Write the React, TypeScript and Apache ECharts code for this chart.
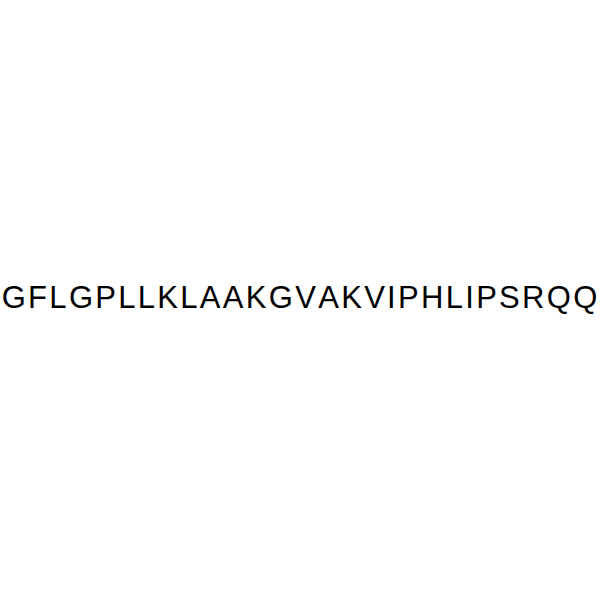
import React, { useEffect, useRef } from "react";
import * as echarts from "echarts";

const residues: string[] = ["G","F","L","G","P","L","L","K","L","A","A","K","G","V","A","K","V","I","P","H","L","I","P","S","R","Q","Q"];

const FONT_FAMILY = "Liberation Sans";
const FONT_SIZE = 31;
const LETTER_SPACING = 2.3;
const CENTER_X = 299.5;
const CENTER_Y = 297;

function measure(ch: string): number {
  const c = document.createElement("canvas");
  const ctx = c.getContext("2d");
  if (!ctx) return FONT_SIZE * 0.64;
  ctx.font = `${FONT_SIZE}px "${FONT_FAMILY}"`;
  return ctx.measureText(ch).width;
}

export default function App() {
  const ref = useRef<HTMLDivElement>(null);
  useEffect(() => {
    if (!ref.current) return;
    const chart = echarts.init(ref.current, null, { renderer: "svg" });
    const widths = residues.map(measure);
    const total = widths.reduce((a, b) => a + b, 0) + LETTER_SPACING * (residues.length - 1);
    let x = CENTER_X - total / 2;
    const items = residues.map((r, i) => {
      const el = {
        type: "text",
        x,
        y: CENTER_Y,
        style: {
          text: r,
          fontFamily: FONT_FAMILY,
          fontSize: FONT_SIZE,
          fill: "#000000",
          align: "left",
          verticalAlign: "middle",
        },
      };
      x += widths[i] + LETTER_SPACING;
      return el;
    });
    chart.setOption({
      animation: false,
      backgroundColor: "#ffffff",
      graphic: items,
    });
    return () => chart.dispose();
  }, []);
  return (
    <div
      ref={ref}
      style={{ position: "fixed", left: 0, top: 0, width: 600, height: 600, background: "#fff" }}
    />
  );
}
